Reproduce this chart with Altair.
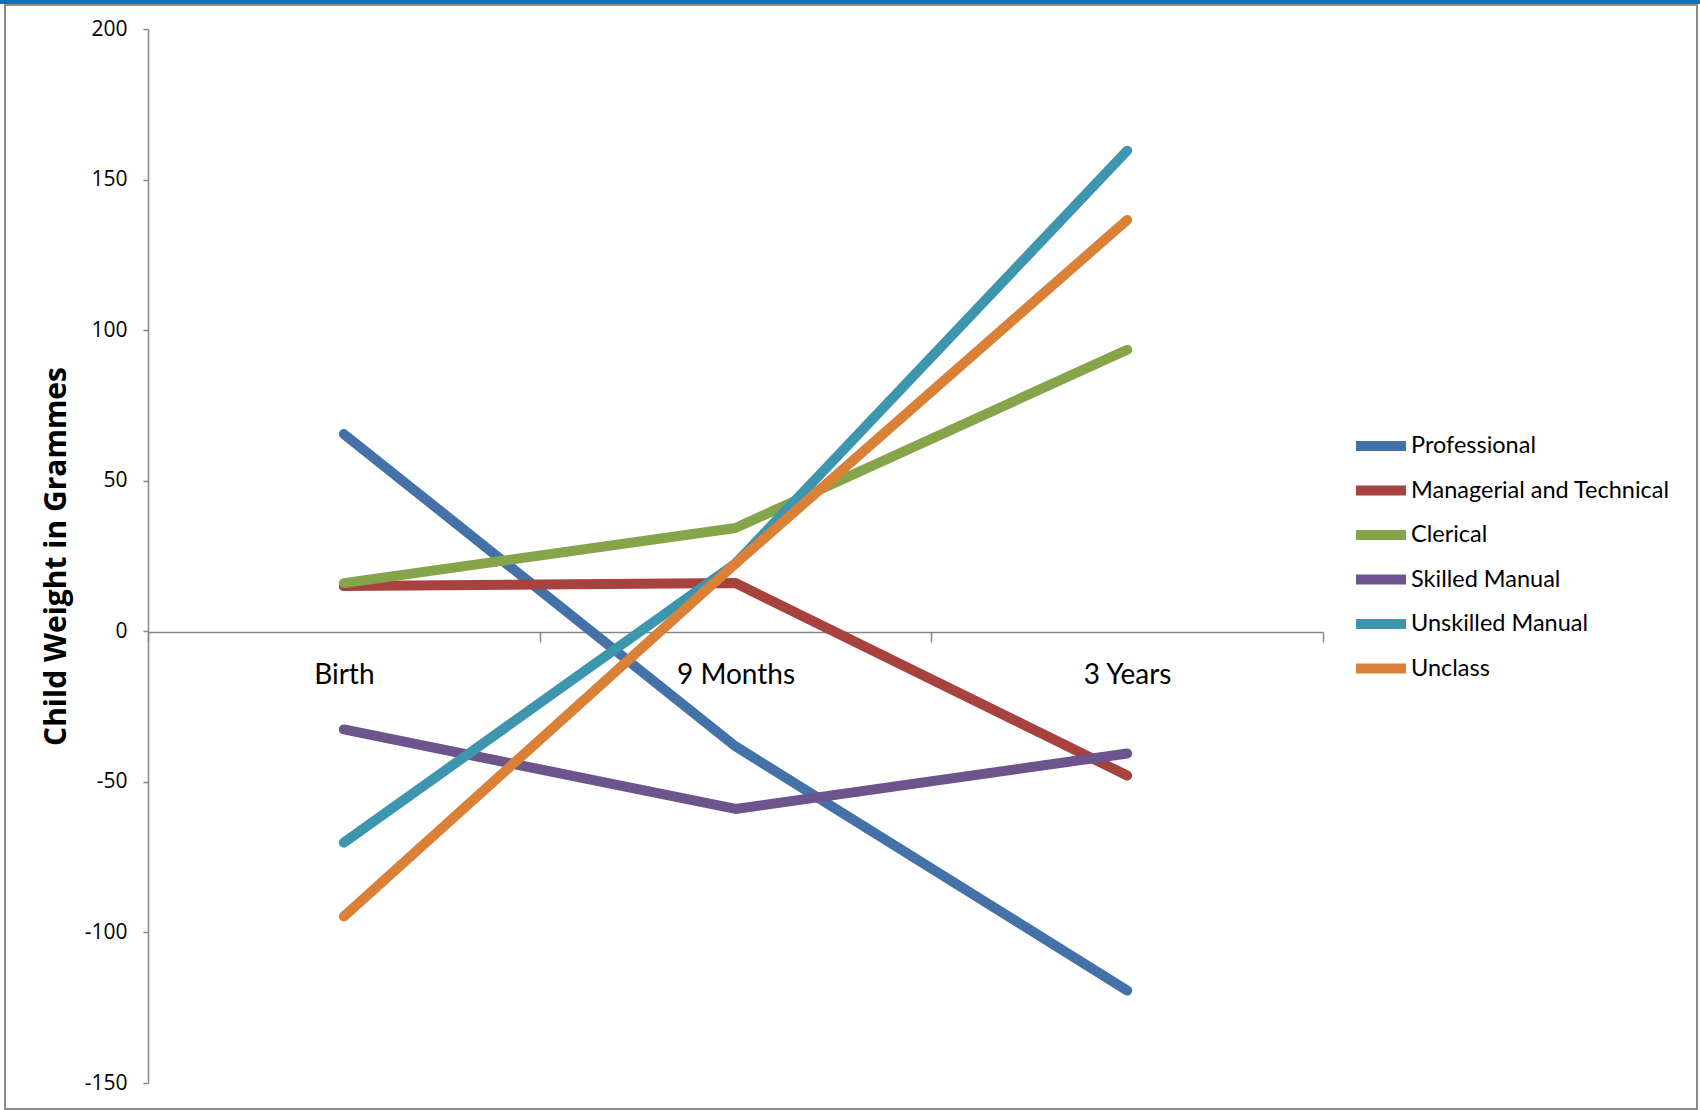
import altair as alt
import pandas as pd

periods = ["Birth", "9 Months", "3 Years"]
series = ["Professional", "Managerial and Technical", "Clerical",
          "Skilled Manual", "Unskilled Manual", "Unclass"]
professional = [65.5, -38.2, -119.3]
managerial = [15.0, 16.0, -47.9]
clerical = [16.0, 34.3, 93.5]
skilled = [-32.6, -59.0, -40.6]
unskilled = [-70.2, 22.5, 159.6]
unclass = [-94.7, 22.5, 136.6]
colors = ["#4471A7", "#A8423F", "#86A44A", "#6E548D", "#3D96AE", "#DA8137"]
y_ticks = [-150, -100, -50, 0, 50, 100, 150, 200]

values = [professional, managerial, clerical, skilled, unskilled, unclass]
rows = []
for s, vals in zip(series, values):
    for p, v in zip(periods, vals):
        rows.append({"period": p, "series": s, "value": v})
df = pd.DataFrame(rows)

W, H = 1175, 1054

lines = alt.Chart(df).mark_line(strokeWidth=10, strokeCap="round", strokeJoin="round").encode(
    x=alt.X("period:N", sort=periods, bandPosition=0.5,
            scale=alt.Scale(type="band", paddingInner=0, paddingOuter=0),
            axis=alt.Axis(title=None, orient="bottom", offset=-451, tickBand="extent",
                          labelFont="Lato", labelFontSize=28, labelColor="#000000",
                          labelPadding=19, tickSize=10, tickColor="#868686", domainColor="#868686",
                          domainWidth=1.5, tickWidth=1.5, labelAngle=0, grid=False)),
    y=alt.Y("value:Q",
            scale=alt.Scale(domain=[-150, 200], nice=False, zero=False),
            axis=alt.Axis(title="Child Weight in Grammes", values=y_ticks, grid=False,
                          labelExpr="toString(datum.value)",
                          titleFont="Open Sans", titleFontSize=30, titleFontWeight="bold",
                          titleColor="#000000", titlePadding=13,
                          labelFont="Open Sans", labelFontSize=21, labelColor="#000000",
                          labelPadding=16, tickSize=5, tickColor="#868686", domainColor="#868686",
                          domainWidth=1.5, tickWidth=1.5)),
    color=alt.Color("series:N", sort=series,
                    scale=alt.Scale(domain=series, range=colors),
                    legend=alt.Legend(title=None, orient="none", legendX=1203, legendY=397,
                                      symbolType="stroke", symbolSize=2500, symbolStrokeWidth=10,
                                      labelFont="Lato", labelFontSize=23.5, labelColor="#000000",
                                      labelOffset=0, clipHeight=40, rowPadding=4.5,
                                      labelLimit=400)),
    order=alt.Order("period_order:Q"),
).transform_calculate(
    period_order="indexof(['Birth','9 Months','3 Years'], datum.period)"
)

frame_df = pd.DataFrame({"k": [0]})
frame = alt.Chart(frame_df).mark_rect(fill=None, stroke="#8c8c8c", strokeWidth=2).encode(
    x=alt.value(-143), x2=alt.value(1549), y=alt.value(-24), y2=alt.value(1080))
topbar = alt.Chart(frame_df).mark_rect(fill="#0a70c0", stroke=None).encode(
    x=alt.value(-148), x2=alt.value(1552), y=alt.value(-29), y2=alt.value(-25))

chart = alt.layer(frame, topbar, lines).properties(
    width=W, height=H,
    autosize=alt.AutoSizeParams(type="none"),
    padding={"left": 148, "top": 29, "right": 377, "bottom": 27},
).configure(background="#ffffff", view=alt.ViewConfig(stroke=None))

chart.save("out.html", embed_options={"renderer": "svg", "actions": False})
